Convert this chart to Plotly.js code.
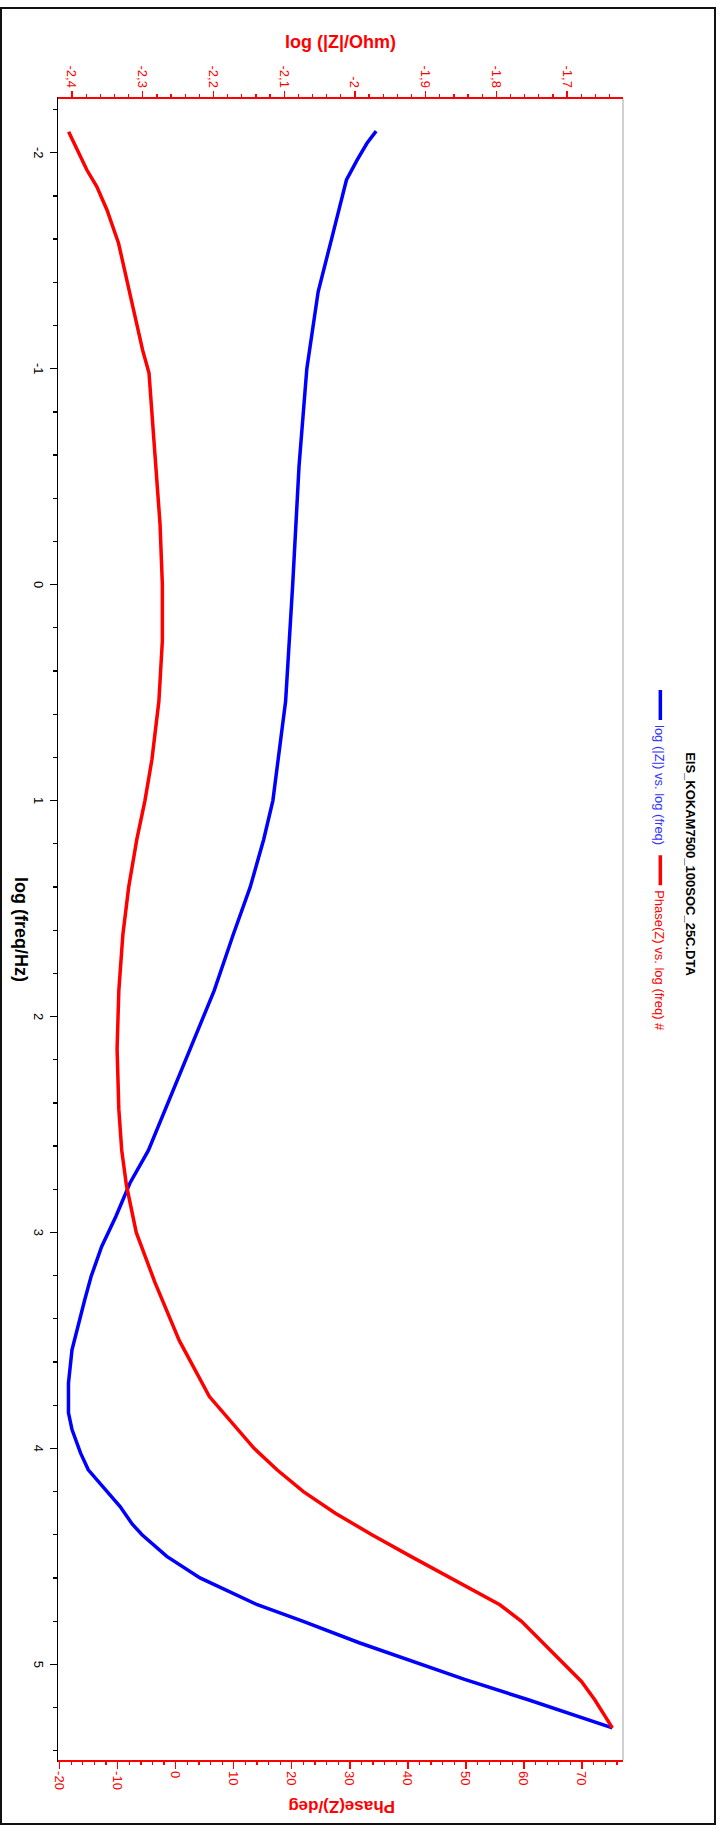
<!DOCTYPE html>
<html>
<head>
<meta charset="utf-8">
<script src="https://cdn.plot.ly/plotly-3.0.1.min.js"></script>
<style>
  html, body { margin:0; padding:0; background:#fff; width:720px; height:1830px; overflow:hidden; }
  #chart { position:absolute; left:0; top:0; width:1830px; height:720px; transform-origin:0 0; transform:translate(720px,0) rotate(90deg); }
  #frame { position:absolute; left:0; top:7px; width:716px; height:1818px; border:2px solid #111; box-sizing:border-box; pointer-events:none; }
</style>
</head>
<body>
<div id="chart"></div>
<div id="frame"></div>
<script>
// ---- data ----
// log(|Z|/Ohm) vs log(freq/Hz)
const freqZ = [-2.100, -2.044, -1.966, -1.874, -1.627, -1.356, -1.000, -0.550, 0.000, 0.540, 1.000, 1.180, 1.400, 1.620, 1.880, 2.150, 2.430, 2.620, 2.771, 2.926, 3.065, 3.204, 3.312, 3.543, 3.697, 3.835, 3.913, 4.021, 4.099, 4.153, 4.207, 4.269, 4.350, 4.400, 4.500, 4.600, 4.724, 4.800, 4.900, 4.993, 5.070, 5.164, 5.294];
const logZ  = [-1.970, -1.983, -1.997, -2.012, -2.031, -2.052, -2.068, -2.079, -2.088, -2.098, -2.116, -2.129, -2.148, -2.172, -2.199, -2.233, -2.267, -2.292, -2.318, -2.338, -2.358, -2.373, -2.382, -2.400, -2.405, -2.405, -2.400, -2.388, -2.377, -2.363, -2.348, -2.332, -2.315, -2.301, -2.266, -2.219, -2.138, -2.074, -1.994, -1.914, -1.845, -1.755, -1.636];
// Phase(Z)/deg vs log(freq/Hz)
const freqPhase = [-2.097, -2.013, -1.920, -1.843, -1.735, -1.581, -1.356, -1.086, -0.980, -0.550, -0.280, 0.000, 0.260, 0.540, 0.810, 1.000, 1.180, 1.400, 1.620, 1.880, 2.150, 2.430, 2.620, 2.780, 3.000, 3.230, 3.500, 3.760, 4.000, 4.100, 4.200, 4.300, 4.400, 4.500, 4.600, 4.724, 4.801, 4.901, 4.993, 5.079, 5.164, 5.294];
const phase     = [-18.45, -17.0, -15.3, -13.6, -11.84, -9.85, -8.0, -5.7, -4.6, -3.4, -2.7, -2.3, -2.3, -2.9, -4.1, -5.3, -6.7, -8.1, -9.1, -9.8, -10.1, -9.8, -9.3, -8.5, -6.8, -3.6, 0.6, 5.8, 13.5, 17.5, 22.0, 27.5, 33.8, 40.5, 47.3, 55.84, 59.57, 63.29, 66.73, 69.9, 72.19, 75.23];

const freqTickVals = [-2, -1, 0, 1, 2, 3, 4, 5];
const freqTickText = ["-2", "-1", "0", "1", "2", "3", "4", "5"];
const zTickVals = [-2.4, -2.3, -2.2, -2.1, -2.0, -1.9, -1.8, -1.7];
const zTickText = ["-2,4", "-2,3", "-2,2", "-2,1", "-2", "-1,9", "-1,8", "-1,7"];
const phaseTickVals = [-20, -10, 0, 10, 20, 30, 40, 50, 60, 70];
const phaseTickText = ["-20", "-10", "0", "10", "20", "30", "40", "50", "60", "70"];

const chartTitle = "EIS_KOKAM7500_100SOC_25C.DTA";
const seriesNames = ["log (|Z|) vs. log (freq)", "Phase(Z) vs. log (freq) #"];

// ---- chart ----
const FONT = "Liberation Sans, Arial, sans-serif";
const RED = "#ff0000", BLUE = "#0000ff";

const traces = [
  { x: freqZ, y: logZ, yaxis: "y", type: "scatter", mode: "lines",
    name: '<span style="color:#3333ff">' + seriesNames[0] + '</span>',
    line: { color: BLUE, width: 3.5 } },
  { x: freqPhase, y: phase, yaxis: "y2", type: "scatter", mode: "lines",
    name: '<span style="color:#ff0000">' + seriesNames[1] + '</span>',
    line: { color: RED, width: 3.5 } }
];

const layout = {
  width: 1830, height: 720,
  margin: { l: 99, r: 70, t: 97, b: 58, pad: 0 },
  paper_bgcolor: "#fff", plot_bgcolor: "#fff",
  font: { family: FONT, size: 13, color: "#000" },
  title: { text: chartTitle, font: { family: FONT, size: 13, weight: 700, color: "#000" },
           x: 864/1830, xref: "container", xanchor: "center", y: 1 - 29/720, yref: "container", yanchor: "middle" },
  showlegend: true,
  legend: { orientation: "h", x: (685-99)/1661, xanchor: "left", y: 1.066, yanchor: "middle",
            font: { family: FONT, size: 13 }, bgcolor: "rgba(0,0,0,0)", borderwidth: 0 },
  xaxis: {
    range: [-2.249, 5.443], showgrid: false, zeroline: false,
    showline: true, linecolor: "#000", linewidth: 1.5,
    tickmode: "array", tickvals: freqTickVals, ticktext: freqTickText,
    ticks: "outside", ticklen: 7, tickwidth: 1.3, tickcolor: "#000",
    tickfont: { family: FONT, size: 13, color: "#000" },
    minor: { dtick: 0.2, tick0: 0, ticks: "outside", ticklen: 3.5, tickwidth: 1.3, tickcolor: "#000", showgrid: false },
    title: { text: "log (freq/Hz)", font: { family: FONT, size: 18, weight: 700, color: "#000" }, standoff: 4 }
  },
  yaxis: {
    range: [-2.4198, -1.621], showgrid: false, zeroline: false,
    showline: true, linecolor: RED, linewidth: 2,
    tickmode: "array", tickvals: zTickVals, ticktext: zTickText,
    ticks: "outside", ticklen: 6.5, tickwidth: 1.3, tickcolor: RED,
    tickfont: { family: FONT, size: 13, color: RED },
    minor: { dtick: 0.02, tick0: 0, ticks: "outside", ticklen: 3.2, tickwidth: 1.3, tickcolor: RED, showgrid: false },
    title: { text: "log (|Z|/Ohm)", font: { family: FONT, size: 18, weight: 700, color: RED }, standoff: 12 }
  },
  yaxis2: {
    overlaying: "y", side: "right",
    range: [-20.28, 77.06], showgrid: false, zeroline: false,
    showline: true, linecolor: RED, linewidth: 2,
    tickmode: "array", tickvals: phaseTickVals, ticktext: phaseTickText,
    ticks: "outside", ticklen: 6.5, tickwidth: 1.3, tickcolor: RED,
    tickfont: { family: FONT, size: 13, color: RED },
    minor: { dtick: 2, tick0: 0, ticks: "outside", ticklen: 3.2, tickwidth: 1.3, tickcolor: RED, showgrid: false }
  },
  shapes: [
    { type: "line", xref: "paper", yref: "paper", x0: 0, x1: 1, y0: 1, y1: 1, line: { color: "#c0c0c0", width: 1.5 } }
  ],
  annotations: [
    { text: "Phase(Z)/deg", textangle: 90, xref: "paper", yref: "paper",
      x: (1807-99)/1661, y: (662 - 378)/565, xanchor: "center", yanchor: "middle", showarrow: false,
      font: { family: FONT, size: 17, weight: 700, color: RED } }
  ]
};

Plotly.newPlot("chart", traces, layout, { displayModeBar: false, staticPlot: true });
</script>
</body>
</html>
